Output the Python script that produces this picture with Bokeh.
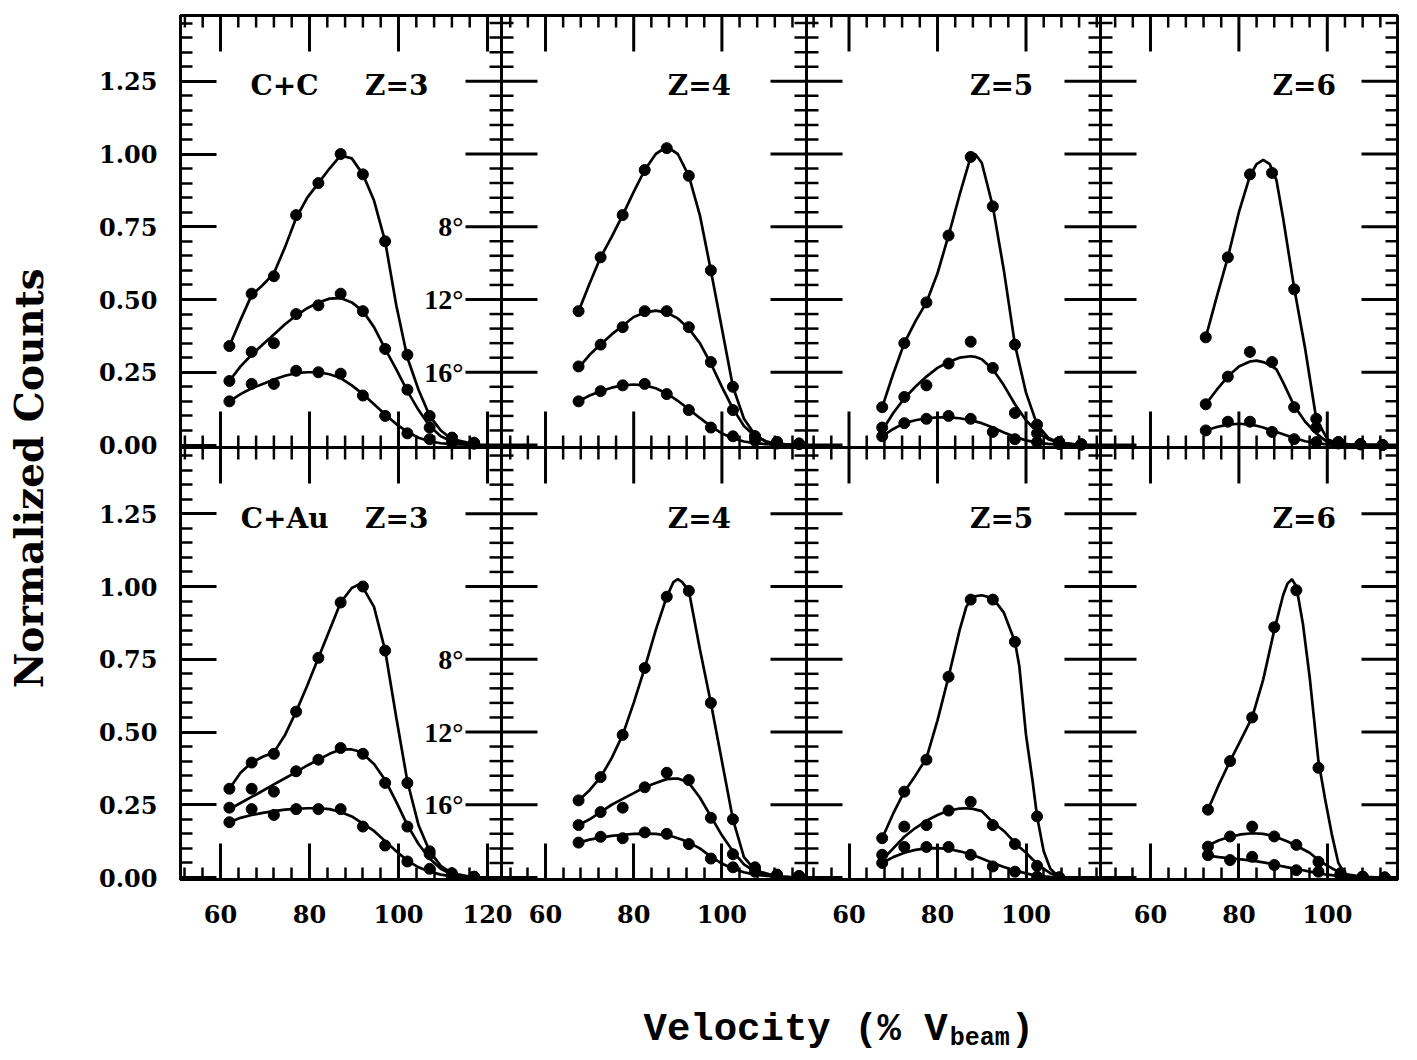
import math
from bokeh.plotting import figure
from bokeh.models import Range1d, LinearAxis, FixedTicker, Span, Label
from bokeh.layouts import column, row
from bokeh.embed import file_html
from bokeh.resources import INLINE
from bokeh.core.properties import value

# ---------------- data ----------------
# C+C, Z=3
cc3_v = [62, 67, 72, 77, 82, 87, 92, 97, 102, 107, 112, 117]
cc3_8 = [0.34, 0.52, 0.58, 0.79, 0.90, 1.00, 0.93, 0.70, 0.31, 0.10, 0.025, 0.008]
cc3_12 = [0.22, 0.32, 0.35, 0.45, 0.48, 0.52, 0.46, 0.33, 0.19, 0.06, 0.025, 0.005]
cc3_16 = [0.15, 0.21, 0.21, 0.255, 0.25, 0.245, 0.17, 0.10, 0.04, 0.02, 0.008, 0.005]
cc3_fv = [62, 64.5, 67, 69.5, 72, 74.5, 77, 79.5, 82, 84.5, 87, 89.5, 92, 94.5, 97, 99.5, 102, 104.5, 107, 109.5, 112, 117]
cc3_f8 = [0.34, 0.43, 0.515, 0.55, 0.59, 0.68, 0.78, 0.85, 0.90, 0.95, 0.995, 0.985, 0.93, 0.84, 0.70, 0.48, 0.30, 0.19, 0.10, 0.05, 0.02, 0.003]
cc3_f12 = [0.22, 0.27, 0.31, 0.345, 0.38, 0.415, 0.445, 0.47, 0.49, 0.503, 0.505, 0.49, 0.46, 0.405, 0.33, 0.26, 0.185, 0.12, 0.065, 0.03, 0.012, 0.002]
cc3_f16 = [0.15, 0.175, 0.195, 0.21, 0.225, 0.238, 0.247, 0.25, 0.25, 0.243, 0.23, 0.205, 0.175, 0.14, 0.105, 0.072, 0.045, 0.025, 0.013, 0.006, 0.003, 0.0]

# C+C, Z=4
cc4_v = [67.5, 72.5, 77.5, 82.5, 87.5, 92.5, 97.5, 102.5, 107.5, 112.5, 117.5]
cc4_8 = [0.46, 0.645, 0.79, 0.945, 1.02, 0.925, 0.60, 0.20, 0.03, 0.01, 0.005]
cc4_12 = [0.27, 0.345, 0.405, 0.46, 0.46, 0.405, 0.285, 0.12, 0.03, 0.01, 0.005]
cc4_16 = [0.15, 0.185, 0.205, 0.21, 0.175, 0.12, 0.06, 0.03, 0.015, 0.005, 0.003]
cc4_fv = [67.5, 70, 72.5, 75, 77.5, 80, 82.5, 85, 87.5, 90, 92.5, 95, 97.5, 100, 102.5, 105, 107.5, 110, 112.5, 117.5]
cc4_f8 = [0.46, 0.555, 0.645, 0.715, 0.79, 0.87, 0.945, 1.0, 1.025, 1.0, 0.925, 0.79, 0.60, 0.40, 0.20, 0.09, 0.035, 0.012, 0.004, 0.0]
cc4_f12 = [0.265, 0.31, 0.345, 0.38, 0.41, 0.44, 0.455, 0.462, 0.455, 0.435, 0.40, 0.35, 0.28, 0.20, 0.125, 0.065, 0.03, 0.012, 0.004, 0.0]
cc4_f16 = [0.15, 0.17, 0.185, 0.197, 0.205, 0.208, 0.205, 0.195, 0.177, 0.152, 0.123, 0.093, 0.064, 0.04, 0.023, 0.012, 0.006, 0.003, 0.001, 0.0]

# C+C, Z=5
cc5_v = [67.5, 72.5, 77.5, 82.5, 87.5, 92.5, 97.5, 102.5, 107.5, 112.5]
cc5_8 = [0.13, 0.35, 0.49, 0.72, 0.99, 0.82, 0.345, 0.07, 0.01, 0.003]
cc5_12 = [0.06, 0.165, 0.205, 0.28, 0.355, 0.265, 0.11, 0.04, 0.01, 0.002]
cc5_16 = [0.03, 0.075, 0.09, 0.10, 0.09, 0.045, 0.02, 0.01, 0.003, 0.001]
cc5_fv = [67.5, 70, 72.5, 75, 77.5, 80, 82.5, 85, 87.5, 88.5, 90, 92.5, 95, 97.5, 100, 102.5, 105, 107.5, 112.5]
cc5_f8 = [0.13, 0.245, 0.35, 0.425, 0.49, 0.59, 0.72, 0.86, 0.99, 1.0, 0.97, 0.82, 0.60, 0.345, 0.18, 0.07, 0.025, 0.008, 0.0]
cc5_f12 = [0.05, 0.11, 0.16, 0.20, 0.235, 0.265, 0.285, 0.30, 0.305, 0.303, 0.295, 0.26, 0.205, 0.14, 0.085, 0.045, 0.02, 0.008, 0.0]
cc5_f16 = [0.03, 0.055, 0.075, 0.085, 0.092, 0.095, 0.095, 0.092, 0.085, 0.081, 0.075, 0.06, 0.043, 0.028, 0.016, 0.008, 0.004, 0.002, 0.0]

# C+C, Z=6
cc6_v = [72.5, 77.5, 82.5, 87.5, 92.5, 97.5, 102.5, 107.5, 112.5]
cc6_8 = [0.37, 0.645, 0.93, 0.935, 0.535, 0.09, 0.01, 0.003, 0.0]
cc6_12 = [0.14, 0.235, 0.32, 0.285, 0.13, 0.06, 0.01, 0.003, 0.0]
cc6_16 = [0.05, 0.08, 0.08, 0.045, 0.02, 0.01, 0.005, 0.002, 0.0]
cc6_fv = [72.5, 75, 77.5, 80, 82.5, 84, 85.5, 87, 88.5, 90, 92.5, 95, 97.5, 100, 102.5, 107.5, 112.5]
cc6_f8 = [0.37, 0.51, 0.645, 0.80, 0.925, 0.965, 0.98, 0.965, 0.91, 0.78, 0.54, 0.33, 0.09, 0.02, 0.005, 0.0, 0.0]
cc6_f12 = [0.14, 0.19, 0.235, 0.27, 0.287, 0.29, 0.285, 0.275, 0.26, 0.215, 0.135, 0.08, 0.04, 0.01, 0.003, 0.0, 0.0]
cc6_f16 = [0.05, 0.062, 0.07, 0.073, 0.07, 0.066, 0.06, 0.052, 0.045, 0.037, 0.024, 0.013, 0.006, 0.002, 0.0, 0.0, 0.0]

# C+Au, Z=3
au3_v = [62, 67, 72, 77, 82, 87, 92, 97, 102, 107, 112, 117]
au3_8 = [0.305, 0.395, 0.425, 0.57, 0.755, 0.945, 1.0, 0.78, 0.325, 0.09, 0.015, 0.003]
au3_12 = [0.24, 0.305, 0.295, 0.365, 0.405, 0.445, 0.425, 0.325, 0.175, 0.08, 0.005, 0.002]
au3_16 = [0.19, 0.235, 0.215, 0.235, 0.235, 0.235, 0.175, 0.11, 0.055, 0.03, 0.008, 0.002]
au3_fv = [62, 64.5, 67, 69.5, 72, 74.5, 77, 79.5, 82, 84.5, 87, 89.5, 91.5, 94.5, 97, 99.5, 102, 104.5, 107, 109.5, 112, 117]
au3_f8 = [0.305, 0.36, 0.395, 0.415, 0.43, 0.49, 0.57, 0.66, 0.755, 0.85, 0.945, 0.995, 1.01, 0.93, 0.78, 0.55, 0.33, 0.18, 0.09, 0.04, 0.015, 0.0]
au3_f12 = [0.235, 0.256, 0.277, 0.298, 0.32, 0.341, 0.362, 0.385, 0.405, 0.425, 0.44, 0.44, 0.432, 0.39, 0.335, 0.26, 0.18, 0.115, 0.065, 0.03, 0.01, 0.0]
au3_f16 = [0.19, 0.205, 0.215, 0.222, 0.228, 0.233, 0.236, 0.238, 0.238, 0.235, 0.225, 0.21, 0.19, 0.16, 0.125, 0.09, 0.058, 0.035, 0.02, 0.01, 0.004, 0.0]

# C+Au, Z=4
au4_v = [67.5, 72.5, 77.5, 82.5, 87.5, 92.5, 97.5, 102.5, 107.5, 112.5, 117.5]
au4_8 = [0.265, 0.345, 0.49, 0.72, 0.965, 0.985, 0.60, 0.20, 0.03, 0.005, 0.003]
au4_12 = [0.18, 0.225, 0.24, 0.31, 0.36, 0.335, 0.205, 0.08, 0.035, 0.01, 0.005]
au4_16 = [0.12, 0.14, 0.135, 0.155, 0.15, 0.115, 0.065, 0.035, 0.02, 0.008, 0.005]
au4_fv = [67.5, 70, 72.5, 75, 77.5, 80, 82.5, 85, 87.5, 89, 90, 91, 92.5, 95, 97.5, 100, 102.5, 105, 107.5, 112.5, 117.5]
au4_f8 = [0.265, 0.30, 0.345, 0.41, 0.49, 0.60, 0.72, 0.85, 0.965, 1.015, 1.025, 1.015, 0.985, 0.785, 0.60, 0.40, 0.20, 0.07, 0.025, 0.003, 0.0]
au4_f12 = [0.18, 0.20, 0.225, 0.25, 0.27, 0.29, 0.31, 0.325, 0.338, 0.34, 0.34, 0.335, 0.325, 0.275, 0.21, 0.145, 0.09, 0.045, 0.02, 0.003, 0.0]
au4_f16 = [0.12, 0.13, 0.137, 0.143, 0.147, 0.15, 0.151, 0.15, 0.145, 0.14, 0.135, 0.13, 0.12, 0.1, 0.072, 0.048, 0.03, 0.018, 0.01, 0.002, 0.0]

# C+Au, Z=5
au5_v = [67.5, 72.5, 77.5, 82.5, 87.5, 92.5, 97.5, 102.5, 107.5]
au5_8 = [0.135, 0.295, 0.405, 0.69, 0.955, 0.955, 0.81, 0.21, 0.0]
au5_12 = [0.078, 0.175, 0.18, 0.23, 0.26, 0.18, 0.115, 0.04, 0.0]
au5_16 = [0.05, 0.105, 0.105, 0.105, 0.078, 0.038, 0.02, 0.003, 0.0]
au5_fv = [67.5, 70, 72.5, 75, 77.5, 80, 82.5, 85, 86.5, 88, 90, 92.5, 95, 97.5, 98.5, 100, 101.5, 102.5, 104, 105.5, 107.5]
au5_f8 = [0.135, 0.22, 0.295, 0.35, 0.41, 0.54, 0.69, 0.85, 0.93, 0.965, 0.97, 0.96, 0.91, 0.81, 0.725, 0.49, 0.33, 0.21, 0.09, 0.03, 0.0]
au5_f12 = [0.06, 0.1, 0.14, 0.17, 0.195, 0.215, 0.23, 0.237, 0.238, 0.236, 0.228, 0.19, 0.16, 0.12, 0.105, 0.085, 0.062, 0.05, 0.03, 0.015, 0.003]
au5_f16 = [0.05, 0.07, 0.085, 0.095, 0.1, 0.101, 0.098, 0.09, 0.084, 0.077, 0.065, 0.05, 0.036, 0.024, 0.02, 0.014, 0.009, 0.007, 0.004, 0.002, 0.0]

# C+Au, Z=6
au6_v = [73, 78, 83, 88, 93, 98, 103, 108, 113]
au6_8 = [0.233, 0.40, 0.55, 0.86, 0.987, 0.377, 0.014, 0.003, 0.0]
au6_12 = [0.106, 0.141, 0.175, 0.141, 0.112, 0.054, 0.014, 0.003, 0.0]
au6_16 = [0.077, 0.06, 0.071, 0.043, 0.025, 0.02, 0.005, 0.002, 0.0]
au6_fv = [73, 75.5, 78, 80.5, 83, 85.5, 88, 90, 91, 92, 93, 94.5, 96, 98, 99.5, 101, 102.5, 104, 108, 113]
au6_f8 = [0.233, 0.32, 0.40, 0.475, 0.55, 0.68, 0.85, 0.97, 1.01, 1.025, 1.0, 0.87, 0.69, 0.40, 0.27, 0.15, 0.05, 0.01, 0.0, 0.0]
au6_f12 = [0.11, 0.128, 0.14, 0.148, 0.152, 0.15, 0.142, 0.13, 0.124, 0.117, 0.11, 0.097, 0.085, 0.06, 0.045, 0.032, 0.02, 0.012, 0.002, 0.0]
au6_f16 = [0.075, 0.07, 0.066, 0.062, 0.058, 0.052, 0.045, 0.038, 0.035, 0.032, 0.029, 0.025, 0.02, 0.015, 0.011, 0.008, 0.005, 0.003, 0.001, 0.0]

systems = ["C+C", "C+Au"]
charges = ["Z=3", "Z=4", "Z=5", "Z=6"]
angles = ["8°", "12°", "16°"]
angle_levels = [0.75, 0.50, 0.25]
x_major = [40, 60, 80, 100, 120]
y_major = [0.0, 0.25, 0.50, 0.75, 1.00, 1.25]

panels = [
    ("top", 0, cc3_v, cc3_8, cc3_12, cc3_16, cc3_fv, cc3_f8, cc3_f12, cc3_f16),
    ("top", 1, cc4_v, cc4_8, cc4_12, cc4_16, cc4_fv, cc4_f8, cc4_f12, cc4_f16),
    ("top", 2, cc5_v, cc5_8, cc5_12, cc5_16, cc5_fv, cc5_f8, cc5_f12, cc5_f16),
    ("top", 3, cc6_v, cc6_8, cc6_12, cc6_16, cc6_fv, cc6_f8, cc6_f12, cc6_f16),
    ("bot", 0, au3_v, au3_8, au3_12, au3_16, au3_fv, au3_f8, au3_f12, au3_f16),
    ("bot", 1, au4_v, au4_8, au4_12, au4_16, au4_fv, au4_f8, au4_f12, au4_f16),
    ("bot", 2, au5_v, au5_8, au5_12, au5_16, au5_fv, au5_f8, au5_f12, au5_f16),
    ("bot", 3, au6_v, au6_8, au6_12, au6_16, au6_fv, au6_f8, au6_f12, au6_f16),
]

# ---------------- layout (page pixels) ----------------
PAGE_W, PAGE_H = 1417, 1060
YT_W = 60            # width of the y-title strip
MAIN_H = 940         # height of the panel figure
FL, FR, FT, FB = 180, 1397, 15, 879   # frame edges on the page
# column: left px, right px, px of v=60, px per unit
COLS = [(180, 501, 220.0, 4.45), (501, 806, 545.0, 4.41),
        (806, 1100, 848.5, 4.425), (1100, 1397, 1150.0, 4.42)]
# row: top px, bottom px, px of y=0, px per unit
ROWS = {"top": (15, 447, 444.5, 291.0), "bot": (447, 879, 877.0, 291.0)}
INK = "black"
SERIF = "DejaVu Serif"
TIMES = "Liberation Serif"
MONO = "Liberation Mono"
label_x_system = 74.4
label_x_charge = [99.6, 94.9, 94.5, 94.8]
label_y = 1.235
angle_x = 114.6
MAJ, MINR = 72, 24   # tick marks, drawn centred on a line (half shows per side)


def gy(py):
    return FB - py


p = figure(width=PAGE_W - YT_W, height=MAIN_H,
           x_range=Range1d(FL, FR), y_range=Range1d(0, FB - FT),
           min_border_left=FL - YT_W, min_border_right=PAGE_W - FR,
           min_border_top=FT, min_border_bottom=MAIN_H - FB,
           x_axis_location=None, y_axis_location=None,
           toolbar_location=None, output_backend="svg",
           background_fill_color="white", border_fill_color="white",
           outline_line_color=INK, outline_line_width=3)
p.grid.visible = False

p.extra_x_ranges = {f"c{k}": Range1d(60 - (p60 - FL) / s, 60 + (FR - p60) / s)
                    for k, (l, r, p60, s) in enumerate(COLS)}
p.extra_y_ranges = {name: Range1d(-(FB - y0) / s, (y0 - FT) / s)
                    for name, (t, b, y0, s) in ROWS.items()}

# tick positions on the page
xmaj, xmin, xlab = [], [], {}
for (l, r, p60, s) in COLS:
    for v in x_major:
        px = round(p60 + (v - 60) * s, 3)
        if l + 2 < px < r - 2:
            xmaj.append(px)
            xlab[px] = str(v)
    for v in range(40, 125, 4):
        if v % 20:
            px = round(p60 + (v - 60) * s, 3)
            if l + 3 < px < r - 3:
                xmin.append(px)

ymaj, ymin, ylab = [], [], {}
for name, (t, b, y0, s) in ROWS.items():
    for v in y_major:
        g = round(gy(y0 - v * s), 3)
        ymaj.append(g)
        ylab[g] = f"{v:.2f}"
    for i in range(1, 30):
        if i % 5:
            py = y0 - i * 0.05 * s
            if py > t + 3:
                ymin.append(round(gy(py), 3))


def mk_axis(ticks, minors, overrides, standoff):
    ax = LinearAxis(ticker=FixedTicker(ticks=ticks, minor_ticks=minors))
    ax.axis_line_width = 3
    ax.axis_line_color = INK
    ax.major_tick_in = MAJ // 2
    ax.major_tick_out = 0
    ax.major_tick_line_width = 3
    ax.major_tick_line_color = INK
    ax.minor_tick_in = MINR // 2
    ax.minor_tick_out = 0
    ax.minor_tick_line_width = 2.5
    ax.minor_tick_line_color = INK
    ax.major_label_overrides = overrides
    ax.major_label_text_font = SERIF
    ax.major_label_text_font_style = "bold"
    ax.major_label_text_font_size = "24px"
    ax.major_label_text_color = INK
    ax.major_label_standoff = standoff
    return ax


p.add_layout(mk_axis(ymaj, ymin, ylab, 23), "left")
p.add_layout(mk_axis(xmaj, xmin, xlab, 25), "below")


def vticks(xpos):
    # horizontal tick marks along a vertical line (clipped to the frame)
    p.scatter(x=[xpos] * len(ymaj), y=ymaj, marker="dash", size=MAJ, line_width=3, line_color=INK)
    p.scatter(x=[xpos] * len(ymin), y=ymin, marker="dash", size=MINR, line_width=2.5, line_color=INK)


def hticks(ypos):
    # vertical tick marks along a horizontal line (clipped to the frame)
    p.scatter(x=xmaj, y=[ypos] * len(xmaj), marker="dash", angle=math.pi / 2, size=MAJ,
              line_width=3, line_color=INK)
    p.scatter(x=xmin, y=[ypos] * len(xmin), marker="dash", angle=math.pi / 2, size=MINR,
              line_width=2.5, line_color=INK)


# right and top frame edges
vticks(FR)
hticks(FB - FT)
# internal dividers with ticks on both sides
for (l, r, p60, s) in COLS[:-1]:
    p.add_layout(Span(location=r, dimension="height", line_width=3, line_color=INK))
    vticks(r)
boundary = gy(ROWS["top"][1])
p.add_layout(Span(location=boundary, dimension="width", line_width=3, line_color=INK))
hticks(boundary)

# data
for (rowname, k, v, d8, d12, d16, fv, f8, f12, f16) in panels:
    kw = dict(x_range_name=f"c{k}", y_range_name=rowname)
    for fy in (f8, f12, f16):
        p.line(fv, fy, line_width=2.7, line_color=INK, **kw)
    for dy in (d8, d12, d16):
        p.scatter(v, dy, size=11, fill_color=INK, line_color=INK, **kw)

# panel texts
for rowname, sysname in zip(["top", "bot"], systems):
    p.text(x=[label_x_system], y=[label_y], text=[sysname], x_range_name="c0", y_range_name=rowname,
           text_font=value(SERIF), text_font_style="bold", text_font_size="28px",
           text_align="center", text_baseline="middle", text_color=INK)
    for k, z in enumerate(charges):
        p.text(x=[label_x_charge[k]], y=[label_y], text=[z], x_range_name=f"c{k}", y_range_name=rowname,
               text_font=value(SERIF), text_font_style="bold", text_font_size="28px",
               text_align="center", text_baseline="middle", text_color=INK)
    p.text(x=[angle_x] * len(angles), y=angle_levels, text=angles, x_range_name="c0", y_range_name=rowname,
           text_font=value(TIMES), text_font_style="bold", text_font_size="28px",
           text_align="right", text_baseline="middle", text_color=INK)

# y title strip
yt = figure(width=YT_W, height=MAIN_H, x_range=Range1d(0, YT_W), y_range=Range1d(0, MAIN_H),
            min_border=0, x_axis_location=None, y_axis_location=None,
            toolbar_location=None, output_backend="svg", outline_line_color=None,
            background_fill_color="white", border_fill_color="white")
yt.grid.visible = False
yt.add_layout(Label(x=28, y=MAIN_H - 732, text="Normalized Counts", angle=math.pi / 2,
                    text_align="left", text_baseline="middle", text_font=SERIF,
                    text_font_style="bold", text_font_size="39px", text_color=INK))

# x title strip (monospace: 0.6 em per character)
XT_H = PAGE_H - MAIN_H
xt = figure(width=PAGE_W, height=XT_H, x_range=Range1d(0, PAGE_W), y_range=Range1d(0, XT_H),
            min_border=0, x_axis_location=None, y_axis_location=None,
            toolbar_location=None, output_backend="svg", outline_line_color=None,
            background_fill_color="white", border_fill_color="white")
xt.grid.visible = False
title_main, title_sub, title_end = "Velocity (% V", "beam", ")"
fs_main, fs_sub = 39, 25
x0 = 643
base = PAGE_H - 1029
x_sub = x0 + len(title_main) * 0.6 * fs_main + 2
x_end = x_sub + len(title_sub) * 0.6 * fs_sub + 1
xt.add_layout(Label(x=x0, y=base, text=title_main, text_align="left",
                    text_baseline="alphabetic", text_font=MONO, text_font_style="bold",
                    text_font_size=f"{fs_main}px", text_color=INK))
xt.add_layout(Label(x=x_sub, y=base - 9, text=title_sub, text_align="left",
                    text_baseline="alphabetic", text_font=MONO, text_font_style="bold",
                    text_font_size=f"{fs_sub}px", text_color=INK))
xt.add_layout(Label(x=x_end, y=base, text=title_end, text_align="left",
                    text_baseline="alphabetic", text_font=MONO, text_font_style="bold",
                    text_font_size=f"{fs_main}px", text_color=INK))

layout = column(row(yt, p), xt)
open("out.html", "w").write(file_html(layout, INLINE))
